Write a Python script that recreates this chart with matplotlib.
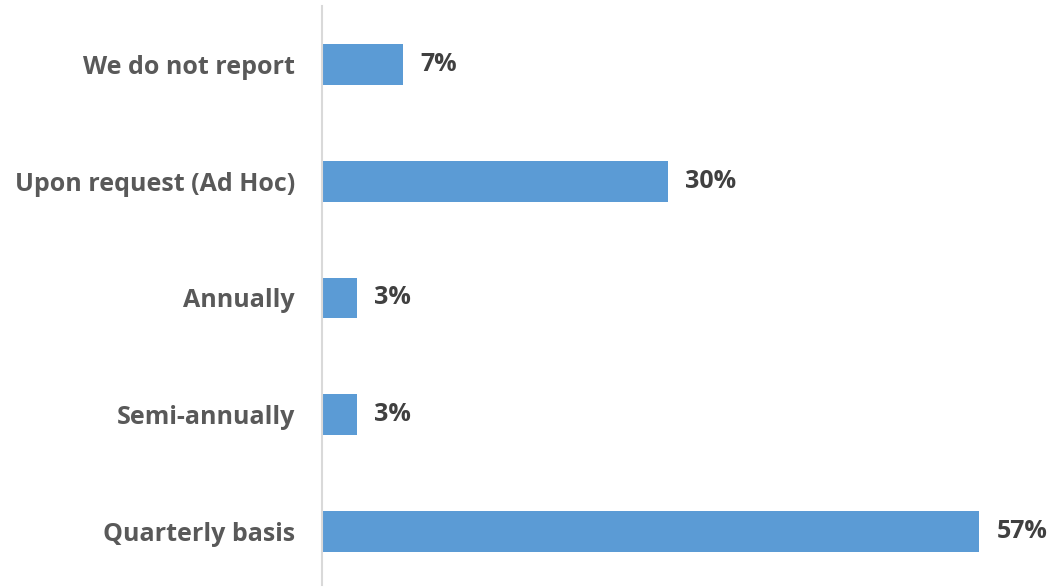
import matplotlib
matplotlib.use("Agg")
import matplotlib.pyplot as plt

categories = ["Quarterly basis", "Semi-annually", "Annually", "Upon request (Ad Hoc)", "We do not report"]
values = [57, 3, 3, 30, 7]
labels = ["57%", "3%", "3%", "30%", "7%"]

plt.rcParams['font.family'] = ['Open Sans', 'DejaVu Sans']

fig = plt.figure(figsize=(10.51, 5.87), dpi=100)
ax = fig.add_axes([322/1051, 1 - 585/587, 692/1051, 579/587])

y = list(range(len(categories)))
ax.barh(y, values, height=0.35, color="#5B9BD5", left=0)
ax.set_xlim(0, 60)
ax.set_ylim(-0.458, len(categories) - 0.5)

for yi, v, lab in zip(y, values, labels):
    ax.text(v + 1.5, yi, lab, va="center", ha="left", fontsize=18,
            fontweight="bold", color="#404040")

ax.set_yticks(y)
ax.set_yticklabels(categories, fontsize=18, fontweight="bold", color="#595959")
ax.tick_params(axis="y", length=0, pad=19.5)
ax.set_xticks([])
for s in ["top", "right", "bottom"]:
    ax.spines[s].set_visible(False)
ax.spines["left"].set_color("#D9D9D9")
ax.spines["left"].set_linewidth(1.5)

fig.savefig("out.png", dpi=100)
